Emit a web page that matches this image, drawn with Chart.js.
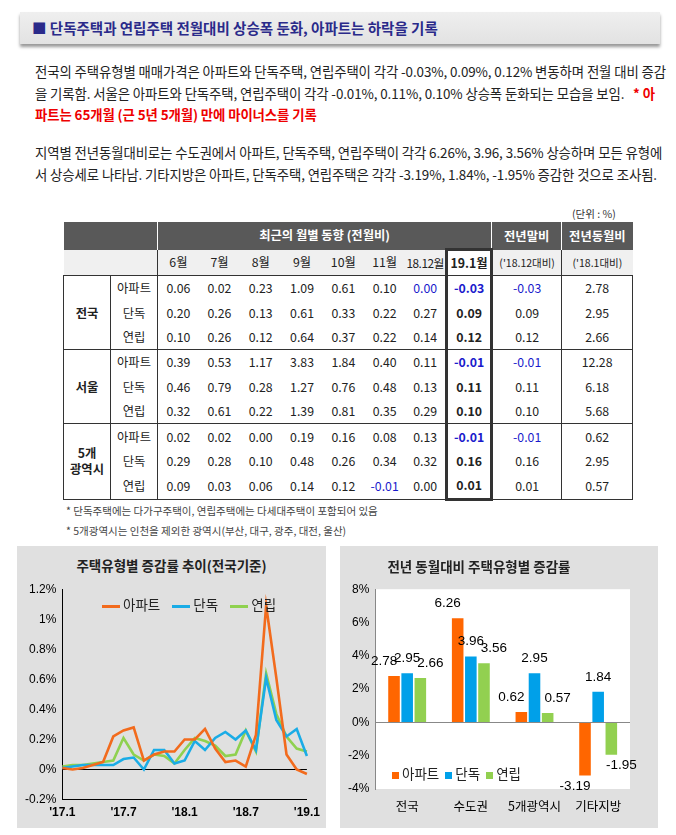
<!DOCTYPE html>
<html><head><meta charset="utf-8">
<script src="https://cdn.jsdelivr.net/npm/chart.js@4"></script>
<style>
body{margin:0;width:676px;height:835px;background:#fff;font-family:"Noto Sans CJK KR","Noto Sans",sans-serif;position:relative;overflow:hidden;color:#222}
.hdr{position:absolute;left:20px;top:12px;width:640px;height:32px;background:linear-gradient(#efefef,#e2e2e2);box-shadow:0 3px 3px #999}
.hdr span{position:absolute;left:12px;top:5px;font-size:14.5px;font-weight:bold;color:#2a2a8a}
.p{position:absolute;left:35px;width:632px;font-size:13.4px;line-height:21.5px;letter-spacing:-0.1px}
.red{color:#e00;font-weight:bold}
table{position:absolute;left:63px;top:222px;border-collapse:collapse;font-size:12.3px;width:570px;table-layout:fixed}
td{text-align:center;height:24.4px;padding:0;white-space:nowrap}
.h1 td{background:#595959;color:#fff;font-weight:bold;height:26px}
.h2 td{background:#f0f0f0;height:24px}
.b{color:#1a1acc}
.k{font-weight:bold}
.panel{position:absolute;background:#e0e0e0}
.ttl{position:absolute;width:100%;text-align:center;font-weight:bold;font-size:13.5px}
.leg{position:absolute;font-size:13.5px;font-family:"Noto Sans CJK KR",sans-serif}
.sw{display:inline-block;vertical-align:middle;margin-right:3px}
</style></head><body>
<div class="hdr"><span>■ 단독주택과 연립주택 전월대비 상승폭 둔화, 아파트는 하락을 기록</span></div>
<div class="p" style="top:61px">전국의 주택유형별 매매가격은 아파트와 단독주택, 연립주택이 각각 -0.03%, 0.09%, 0.12% 변동하며 전월 대비 증감을 기록함. 서울은 아파트와 단독주택, 연립주택이 각각 -0.01%, 0.11%, 0.10% 상승폭 둔화되는 모습을 보임. &nbsp;&nbsp;<span class="red">* 아파트는 65개월 (근 5년 5개월) 만에 마이너스를 기록</span></div>
<div class="p" style="top:142px">지역별 전년동월대비로는 수도권에서 아파트, 단독주택, 연립주택이 각각 6.26%, 3.96, 3.56% 상승하며 모든 유형에서 상승세로 나타남. 기타지방은 아파트, 단독주택, 연립주택은 각각 -3.19%, 1.84%, -1.95% 증감한 것으로 조사됨.</div>
<div style="position:absolute;left:572px;top:206px;font-size:10.5px;color:#333">(단위 : %)</div>
<div id="tbl"></div>
<div style="position:absolute;left:66px;top:503px;font-size:10.5px;color:#444">* 단독주택에는 다가구주택이, 연립주택에는 다세대주택이 포함되어 있음</div>
<div style="position:absolute;left:66px;top:523px;font-size:10.5px;color:#444">* 5개광역시는 인천을 제외한 광역시(부산, 대구, 광주, 대전, 울산)</div>

<div class="panel" style="left:17px;top:546px;width:309px;height:282px">
 <div class="ttl" style="top:9px">주택유형별 증감률 추이(전국기준)</div>
 <div style="position:absolute;left:0;top:30px;width:309px;height:252px"><canvas id="c1"></canvas></div>
 <div class="leg" style="left:85px;top:48px"><span class="sw" style="width:18px;height:3px;background:#f26b1d"></span>아파트 &nbsp;&nbsp;&nbsp;<span class="sw" style="width:18px;height:3px;background:#1aace6"></span>단독 &nbsp;&nbsp;&nbsp;<span class="sw" style="width:18px;height:3px;background:#8fd14f"></span>연립</div>
</div>
<div class="panel" style="left:340px;top:546px;width:318px;height:282px">
 <div class="ttl" style="top:10px;left:-20px">전년 동월대비 주택유형별 증감률</div>
 <div style="position:absolute;left:0;top:30px;width:318px;height:252px"><canvas id="c2"></canvas></div>
 <div class="leg" style="left:52px;top:217px"><span class="sw" style="width:7px;height:7px;background:#ff6600"></span>아파트 &nbsp;<span class="sw" style="width:7px;height:7px;background:#00a0e9"></span>단독 &nbsp;<span class="sw" style="width:7px;height:7px;background:#92d050"></span>연립</div>
</div>
<script>
const tMonths=['6월','7월','8월','9월','10월','11월','18.12월','19.1월'];
const tRegions=['전국','서울','5개<br>광역시'];
const tTypes=['아파트','단독','연립'];
const tRows=[
['0.06','0.02','0.23','1.09','0.61','0.10','0.00','-0.03','-0.03','2.78'],
['0.20','0.26','0.13','0.61','0.33','0.22','0.27','0.09','0.09','2.95'],
['0.10','0.26','0.12','0.64','0.37','0.22','0.14','0.12','0.12','2.66'],
['0.39','0.53','1.17','3.83','1.84','0.40','0.11','-0.01','-0.01','12.28'],
['0.46','0.79','0.28','1.27','0.76','0.48','0.13','0.11','0.11','6.18'],
['0.32','0.61','0.22','1.39','0.81','0.35','0.29','0.10','0.10','5.68'],
['0.02','0.02','0.00','0.19','0.16','0.08','0.13','-0.01','-0.01','0.62'],
['0.29','0.28','0.10','0.48','0.26','0.34','0.32','0.16','0.16','2.95'],
['0.09','0.03','0.06','0.14','0.12','-0.01','0.00','0.01','0.01','0.57']];
let h='<table><colgroup><col style="width:47px"><col style="width:47px">'+'<col style="width:41.3px">'.repeat(7)+'<col style="width:45px"><col style="width:70px"><col style="width:71px"></colgroup>';
h+='<tr class="h1"><td colspan="2" style="border-right:1px solid #fff"></td><td colspan="8">최근의 월별 동향 (전월비)</td><td style="border-left:1px solid #fff">전년말비</td><td style="border-left:1px solid #fff">전년동월비</td></tr>';
h+='<tr class="h2"><td colspan="2" style="border-right:1px solid #333"></td>';
tMonths.forEach((m,i)=>{h+=i==7?'<td class="k" style="border:3px solid #333;border-bottom:none;background:#fff">'+m+'</td>':'<td'+(i==6?' style="letter-spacing:-0.5px;font-size:11.8px"':'')+'>'+m+'</td>'});
h+='<td style="border-left:1px solid #333;font-size:10.5px">(\'18.12대비)</td><td style="border-left:1px solid #333;font-size:10.5px">(\'18.1대비)</td></tr>';
tRows.forEach((r,i)=>{
 const top=i%3==0?'border-top:1px solid #333;':'';
 h+='<tr>';
 if(i%3==0)h+='<td rowspan="3" class="k" style="border-top:1px solid #333;border-left:1px solid #333;border-right:1px solid #333;'+(i==6?'border-bottom:1px solid #333;':'')+'line-height:16px">'+tRegions[i/3]+'</td>';
 h+='<td style="'+top+'border-right:1px solid #333'+(i==8?';border-bottom:1px solid #333':'')+'">'+tTypes[i%3]+'</td>';
 r.forEach((v,j)=>{
  let st=top+(i==8?'border-bottom:1px solid #333;':'');let cl=v.startsWith('-')||(i==0&&j==6)?'b':'';
  if(j==7){st+='border-left:3px solid #333;border-right:3px solid #333;'+(i==8?'border-bottom:3px solid #333;':'');cl+=' k';}
  if(j>=8)st+='border-left:1px solid #333;';
  if(j==9)st+='border-right:1px solid #333;';
  h+='<td class="'+cl+'" style="'+st+'">'+v+'</td>';
 });
 h+='</tr>';
});
h+='</table>';
document.getElementById('tbl').innerHTML=h;

const months=['17.1','17.2','17.3','17.4','17.5','17.6','17.7','17.8','17.9','17.10','17.11','17.12','18.1','18.2','18.3','18.4','18.5','18.6','18.7','18.8','18.9','18.10','18.11','18.12','19.1'];
const tickShow={'17.1':"'17.1",'17.7':"'17.7",'18.1':"'18.1",'18.7':"'18.7",'19.1':"'19.1"};
const apt=[0.01,0.00,0.01,0.03,0.05,0.22,0.26,0.28,0.06,0.10,0.12,0.12,0.20,0.20,0.27,0.14,0.05,0.06,0.02,0.23,1.09,0.61,0.10,0.00,-0.03];
const det=[0.01,0.02,0.03,0.03,0.03,0.03,0.07,0.08,0.00,0.13,0.13,0.04,0.06,0.19,0.13,0.21,0.25,0.20,0.26,0.13,0.61,0.33,0.22,0.27,0.09];
const row=[0.02,0.03,0.03,0.04,0.05,0.06,0.21,0.10,0.06,0.10,0.09,0.04,0.13,0.21,0.19,0.16,0.09,0.10,0.26,0.12,0.64,0.37,0.22,0.14,0.12];
const yTicks1=[-0.2,0,0.2,0.4,0.6,0.8,1,1.2];
const fontA={family:'Arial, "Liberation Sans", sans-serif',size:12};
new Chart(document.getElementById('c1'),{type:'line',
 data:{labels:months,datasets:[
  {label:'아파트',data:apt,borderColor:'#f26b1d',borderWidth:2.6},
  {label:'단독',data:det,borderColor:'#1aace6',borderWidth:2.6},
  {label:'연립',data:row,borderColor:'#8fd14f',borderWidth:2.6}]},
 options:{responsive:true,maintainAspectRatio:false,animation:false,
  elements:{point:{radius:0},line:{tension:0}},
  layout:{padding:{left:2,right:14,top:0,bottom:2}},
  plugins:{legend:{display:false},tooltip:{enabled:false}},
  scales:{
   x:{grid:{display:false,drawTicks:false},border:{color:'#000'},offset:false,
      ticks:{autoSkip:false,maxRotation:0,padding:6,color:'#000',font:{...fontA,weight:'bold',size:12}},
      afterTickToLabelConversion:a=>{a.ticks.forEach((t,i)=>{t.label=tickShow[months[i]]||'';});}},
   y:{min:-0.2,max:1.2,afterBuildTicks:a=>{a.ticks=yTicks1.map(v=>({value:v}))},
      grid:{color:c=>c.tick&&c.tick.value===0?'#000':'transparent',drawTicks:false},border:{color:'#000'},
      ticks:{padding:6,color:'#000',font:fontA,callback:v=>(Math.round(v*10)/10)+'%'}}}}});

const regions=['전국','수도권','5개광역시','기타지방'];
const bApt=[2.78,6.26,0.62,-3.19];
const bDet=[2.95,3.96,2.95,1.84];
const bRow=[2.66,3.56,0.57,-1.95];
const yTicks2=[-4,-2,0,2,4,6,8];
const bgPlugin={id:'bgw',beforeDraw(ch){const a=ch.chartArea,c=ch.ctx;c.save();c.fillStyle='#fff';c.fillRect(a.left,a.top,a.right-a.left,a.bottom-a.top);c.restore();}};
const dxs=[-10,0,10];
const labelPlugin={id:'lbl',afterDatasetsDraw(ch){const ctx=ch.ctx;ctx.save();ctx.font='13.5px Arial, "Liberation Sans", sans-serif';ctx.fillStyle='#000';ctx.textAlign='center';
 ch.data.datasets.forEach((ds,di)=>{ch.getDatasetMeta(di).data.forEach((b,i)=>{const v=ds.data[i];
  ctx.textBaseline=v>=0?'bottom':'top';ctx.fillText(v.toFixed(2),b.x+dxs[di],v>=0?b.y-8:b.y+4);});});ctx.restore();}};
new Chart(document.getElementById('c2'),{type:'bar',
 data:{labels:regions,datasets:[
  {label:'아파트',data:bApt,backgroundColor:'#ff6600'},
  {label:'단독',data:bDet,backgroundColor:'#00a0e9'},
  {label:'연립',data:bRow,backgroundColor:'#92d050'}]},
 plugins:[bgPlugin,labelPlugin],
 options:{responsive:true,maintainAspectRatio:false,animation:false,
  layout:{padding:{left:2,right:28,top:12,bottom:4}},
  datasets:{bar:{categoryPercentage:0.62,barPercentage:0.88}},
  plugins:{legend:{display:false},tooltip:{enabled:false}},
  scales:{
   x:{grid:{display:false,drawTicks:false},border:{display:false},
      ticks:{padding:10,color:'#000',font:{family:'"Noto Sans CJK KR",sans-serif',size:12.5}}},
   y:{min:-4,max:8,afterBuildTicks:a=>{a.ticks=yTicks2.map(v=>({value:v}))},
      grid:{color:c=>c.tick&&c.tick.value===0?'#888':'transparent',drawTicks:false},border:{color:'#888'},
      ticks:{padding:6,color:'#000',font:fontA,callback:v=>v+'%'}}}}});
</script>
</body></html>
